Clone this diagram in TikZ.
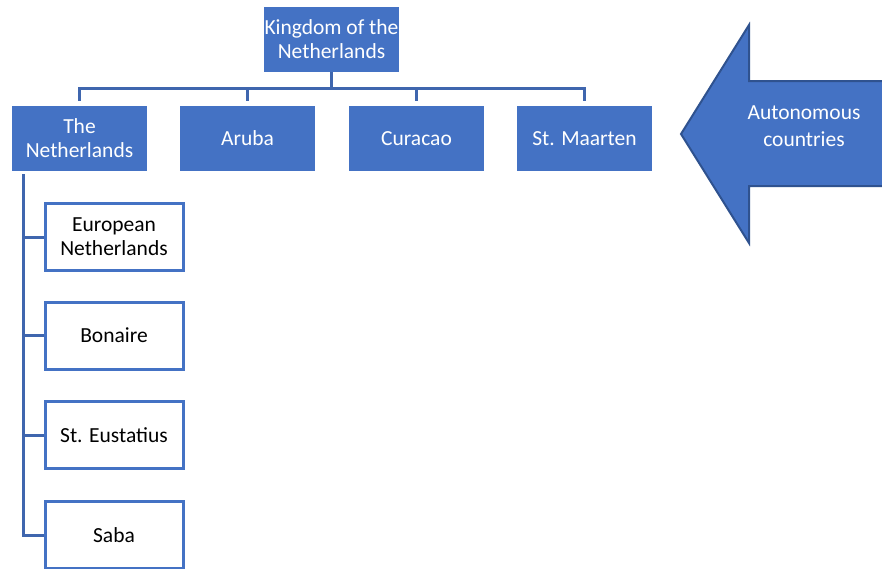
\documentclass[tikz,border=0pt]{standalone}
\usepackage{fontspec}
\setmainfont{Carlito}
\definecolor{acc}{HTML}{4472C4}
\definecolor{lineblue}{HTML}{3F66AE}
\definecolor{arrowedge}{HTML}{2F528F}
\begin{document}
\begin{tikzpicture}[x=1pt,y=-1pt,
  bluebox/.style={fill=acc,draw=none,minimum width=135pt,minimum height=65pt,inner sep=0pt,align=center,text=white,font=\fontsize{21.5}{24}\selectfont},
  whitebox/.style={fill=white,draw=acc,line width=3pt,minimum width=138pt,minimum height=67pt,inner sep=0pt,align=center,text=black,font=\fontsize{21.5}{24}\selectfont},
  conn/.style={draw=lineblue,line width=3pt}]
\useasboundingbox (0,0) rectangle (882,568);
\clip (0,0) rectangle (882,568);
\fill[white] (0,0) rectangle (882,568);
% top
\node[bluebox] (top) at (331.5,39.5) {Kingdom of the\\Netherlands};
\node[bluebox] (nl) at (79.5,138.5) {The\\Netherlands};
\node[bluebox] (ar) at (247.5,138.5) {Aruba};
\node[bluebox] (cu) at (416.5,138.5) {Curacao};
\node[bluebox] (sm) at (584.5,138.5) {St. Maarten};
% children
\node[whitebox] (c1) at (114,237) {European\\Netherlands};
\node[whitebox] (c2) at (114,335.5) {Bonaire};
\node[whitebox] (c3) at (114,435) {St. Eustatius};
\node[whitebox] (c4) at (114,535) {Saba};
% connectors
\coordinate (bus) at (331.5,88);
\draw[conn] (top.south) -- (bus);
\draw[conn,shorten >=5pt] (bus) -| (nl.north);
\draw[conn,shorten >=5pt] (bus) -| (ar.north);
\draw[conn,shorten >=5pt] (bus) -| (cu.north);
\draw[conn,shorten >=5pt] (bus) -| (sm.north);
\coordinate (spine) at (23,174);
\draw[conn] (spine) |- (c1.west);
\draw[conn] (spine) |- (c2.west);
\draw[conn] (spine) |- (c3.west);
\draw[conn] (spine) |- (c4.west);
% arrow
\draw[fill=acc,draw=arrowedge,line width=2pt,line join=miter]
  (681,134) -- (749,25) -- (749,81) -- (886,81) -- (886,186) -- (749,186) -- (749,243) -- cycle;
\node[text=white,align=center,font=\fontsize{21.5}{27}\selectfont] (auto) at (804,126) {Autonomous\\countries};
\end{tikzpicture}
\end{document}
